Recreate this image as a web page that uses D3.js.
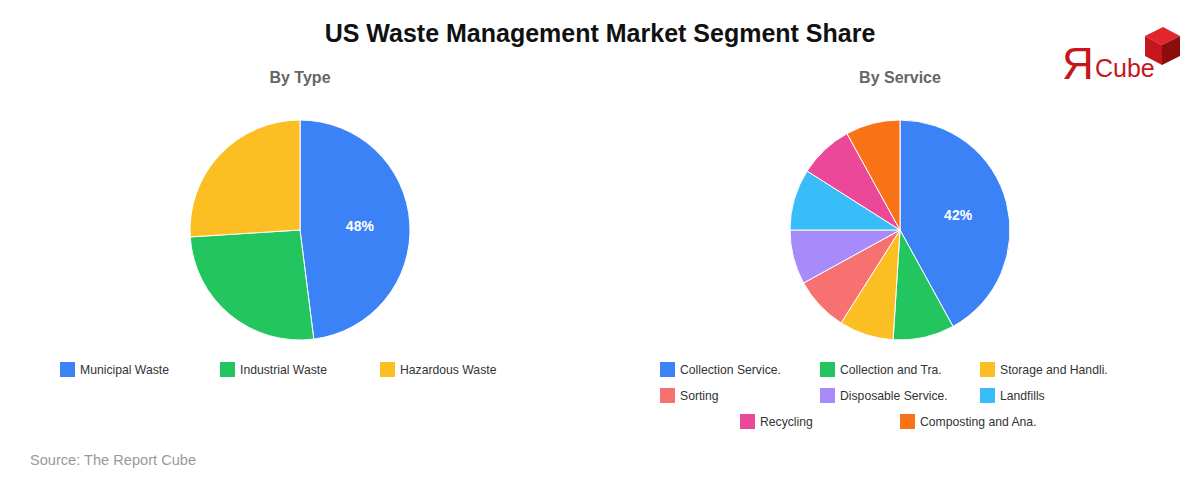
<!DOCTYPE html>
<html>
<head>
<meta charset="utf-8">
<script src="https://cdn.jsdelivr.net/npm/d3@7"></script>
<style>
  body { margin: 0; background: #fff; }
  svg { font-family: "Liberation Sans", Arial, sans-serif; }
</style>
</head>
<body>
<script>
// data
var typeLabels = ["Municipal Waste", "Industrial Waste", "Hazardous Waste"];
var typeValues = [48, 26, 26];
var typeColors = ["#3b82f6", "#22c55e", "#fbbf24"];

var serviceLabels = ["Collection Service.", "Collection and Tra.", "Storage and Handli.", "Sorting",
                     "Disposable Service.", "Landfills", "Recycling", "Composting and Ana."];
var serviceValues = [42, 9, 8, 8, 8, 9, 8, 8];
var serviceColors = ["#3b82f6", "#22c55e", "#fbbf24", "#f87171", "#a78bfa", "#38bdf8", "#ec4899", "#f97316"];

var width = 1200, height = 480;

var svg = d3.select("body").append("svg")
    .attr("width", width)
    .attr("height", height);

svg.append("text")
    .attr("x", 600).attr("y", 42)
    .attr("text-anchor", "middle")
    .style("font-size", "25px")
    .style("font-weight", "bold")
    .style("fill", "#111")
    .text("US Waste Management Market Segment Share");

function drawPie(cx, title, labels, values, colors) {
    var radius = 110;
    var g = svg.append("g").attr("transform", "translate(" + cx + ",230)");

    svg.append("text")
        .attr("x", cx).attr("y", 83)
        .attr("text-anchor", "middle")
        .style("font-size", "16px")
        .style("font-weight", "bold")
        .style("fill", "#666")
        .text(title);

    var pie = d3.pie().sort(null).value(function(d) { return d; });
    var arc = d3.arc().innerRadius(0).outerRadius(radius);
    var labelArc = d3.arc().innerRadius(60).outerRadius(60);
    var arcs = pie(values);

    g.selectAll("path")
        .data(arcs)
        .enter().append("path")
        .attr("d", arc)
        .style("fill", function(d, i) { return colors[i]; })
        .style("stroke", "#fff")
        .style("stroke-width", 1);

    // only the biggest slice gets its share printed
    g.selectAll("text.pct")
        .data(arcs.filter(function(d) { return d.index === 0; }))
        .enter().append("text")
        .attr("class", "pct")
        .attr("transform", function(d) { return "translate(" + labelArc.centroid(d) + ")"; })
        .attr("text-anchor", "middle")
        .attr("dy", "0.35em")
        .style("font-size", "14px")
        .style("font-weight", "bold")
        .style("fill", "#fff")
        .text(function(d) { return d.data + "%"; });

    // legend, 3 per row, last row centred
    var perRow = 3, colW = 160, rowH = 26;
    var rows = Math.ceil(labels.length / perRow);
    labels.forEach(function(name, i) {
        var row = Math.floor(i / perRow);
        var col = i % perRow;
        var inRow = (row === rows - 1) ? labels.length - row * perRow : perRow;
        var startX = cx - inRow * colW / 2;
        var x = startX + col * colW, y = 362 + row * rowH;
        var item = svg.append("g").attr("transform", "translate(" + x + "," + y + ")");
        item.append("rect")
            .attr("width", 15).attr("height", 15)
            .style("fill", colors[i]);
        item.append("text")
            .attr("x", 20).attr("y", 12)
            .style("font-size", "12.2px")
            .style("fill", "#333")
            .text(name);
    });
}

drawPie(300, "By Type", typeLabels, typeValues, typeColors);
drawPie(900, "By Service", serviceLabels, serviceValues, serviceColors);

svg.append("text")
    .attr("x", 30).attr("y", 465)
    .style("font-size", "14.6px")
    .style("fill", "#999")
    .text("Source: The Report Cube");

// logo
var logo = svg.append("g");
logo.append("text")
    .attr("x", 1062).attr("y", 79)
    .style("font-size", "44px")
    .style("fill", "#c4161c")
    .text("Я");
logo.append("text")
    .attr("x", 1095).attr("y", 77)
    .style("font-size", "25px")
    .style("fill", "#c4161c")
    .text("Cube");
logo.append("polygon")
    .attr("points", "1145,36 1163,27 1180,36 1162,45")
    .style("fill", "#e0262b");
logo.append("polygon")
    .attr("points", "1145,36 1162,45 1162,65 1145,56")
    .style("fill", "#c4161c");
logo.append("polygon")
    .attr("points", "1162,45 1180,36 1180,56 1162,65")
    .style("fill", "#8b0d10");
</script>
</body>
</html>
